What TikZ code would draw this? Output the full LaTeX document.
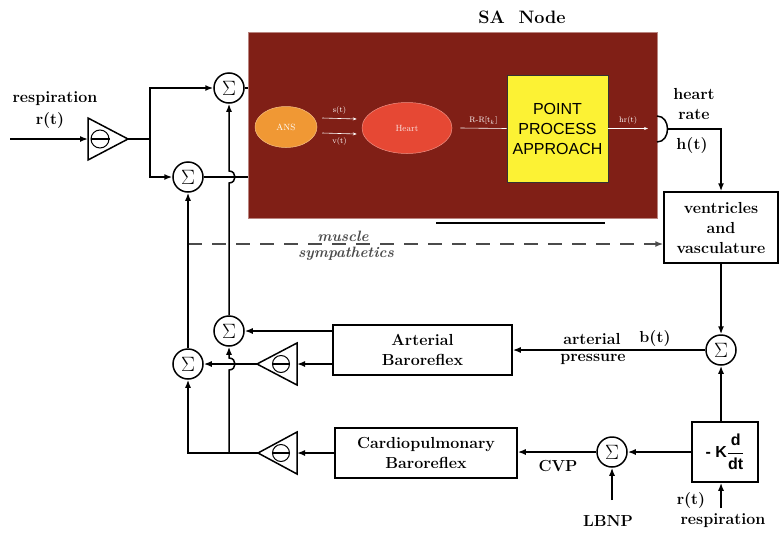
\documentclass[tikz,border=0pt]{standalone}
\usepackage{amsmath}
\usepackage{fontspec}
\newfontfamily\arialfont{Liberation Sans}
\usetikzlibrary{arrows.meta, shapes.geometric}
\definecolor{sared}{RGB}{128,31,22}
\definecolor{anscol}{RGB}{240,152,52}
\definecolor{heartcol}{RGB}{230,72,52}
\definecolor{ppcol}{RGB}{252,242,52}
\definecolor{dashcol}{RGB}{75,75,75}

\begin{document}
\begin{tikzpicture}[x=1pt, y=-1pt, line width=1.5pt,
  font=\fontsize{16}{20}\selectfont\bfseries,
  arr/.style={-{Latex[length=8pt,width=6pt]}},
  sumnode/.style={draw, circle, minimum size=30pt, inner sep=0pt, font=\fontsize{20}{20}\selectfont},
  minus/.style={draw, circle, inner sep=0pt, line width=1pt},
  blk/.style={draw, align=center, inner sep=0pt},
  wire/.style={white, line width=0.6pt, -{Stealth[length=4pt,width=3pt]}},
  small/.style={white, font=\fontsize{8}{8}\selectfont\mdseries}]
  \useasboundingbox (0,0) rectangle (779,533);

  % SA node
  \node[fill=sared, draw=sared!55!white, line width=0.6pt, minimum width=409pt, minimum height=186pt, inner sep=0pt] (sa) at (452.5,125) {};
  \node[font=\fontsize{18}{20}\selectfont\bfseries] (satitle) at (522,17) {SA\ \ Node};
  \draw[line width=1.8pt] (436,223) -- (605,223);
  \node[ellipse, fill=anscol, draw=anscol!60!white, line width=0.5pt, minimum width=62pt, minimum height=41pt, inner sep=0pt, font=\fontsize{9}{9}\selectfont\mdseries, text=white] (ans) at (286,127) {ANS};
  \node[ellipse, fill=heartcol, draw=heartcol!60!white, line width=0.5pt, minimum width=90pt, minimum height=51pt, inner sep=0pt, font=\fontsize{9}{9}\selectfont\mdseries, text=white!85!heartcol] (heart) at (407,128) {Heart};
  \draw[wire] ([xshift=5pt,yshift=9pt]ans.east) -- ([xshift=-5pt,yshift=9pt]heart.west) node[midway, above, small] {s(t)};
  \draw[wire] ([xshift=5pt,yshift=-6pt]ans.east) -- ([xshift=-5pt,yshift=-6pt]heart.west) node[midway, below, small] {v(t)};
  \node[fill=ppcol, draw=black!80, line width=0.8pt, minimum width=101pt, minimum height=107pt, inner sep=0pt, align=center, font=\arialfont\fontsize{16}{20}\selectfont] (pp) at (557.5,128.5) {POINT\\PROCESS\\APPROACH};
  \draw[white, line width=0.6pt] ([xshift=8pt]heart.east) -- (pp.west) node[midway, above, small] {R-R[t$_k$]};
  \coordinate (hrend) at (648,128.5);
  \draw[wire] (pp.east) -- (hrend) node[midway, above, small] {hr(t)};

  % heart rate out
  \coordinate (hrout) at (667,129);
  \draw (657,116) .. controls (671,116) and (671,142) .. (657,142);
  \node[blk, minimum width=114pt, minimum height=71pt] (vent) at (721,227.5) {ventricles\\and\\vasculature};
  \draw[arr] (hrout) -| (vent.north);
  \node (lheart) at (694,94) {heart};
  \node (lrate) at (694,114) {rate};
  \node (lht) at (692,146) {h(t)};

  % respiration input
  \node (lresp) at (55,99) {respiration};
  \node (lrt) at (50,121) {r(t)};
  \coordinate (rin) at (10,139);
  \coordinate (g1in) at (88,139);
  \coordinate (g1out) at (128,139);
  \draw (88,118) -- (g1out) -- (88,160) -- cycle;
  \node[minus, minimum size=18pt] (m1) at (100,139) {};
  \draw (m1.west) -- (m1.east);
  \draw[arr] (rin) -- (g1in);
  \node[sumnode] (s1) at (229,88) {$\Sigma$};
  \node[sumnode] (s2) at (188,177) {$\Sigma$};
  \draw (g1out) -- ++(22,0) coordinate (br1);
  \draw[arr] (br1) |- (s1.west);
  \draw[arr] (br1) |- (s2.west);
  \draw (s1.east) -- (s1 -| sa.west);
  \draw (s2.east) -- (s2 -| sa.west);

  % muscle sympathetics
  \coordinate (ms) at (188,244);
  \draw[arr, dashcol, line width=1.5pt, dash pattern=on 14pt off 10pt] (ms) -- (vent.west |- ms);
  \node[font=\fontsize{15}{18}\selectfont\bfseries\itshape, text=dashcol] (lmus) at (343,236) {muscle};
  \node[font=\fontsize{15}{18}\selectfont\bfseries\itshape, text=dashcol] (lsym) at (346,254) {sympathetics};

  % baroreflex loops
  \node[sumnode] (s3) at (229,331) {$\Sigma$};
  \node[sumnode] (s4) at (188,364) {$\Sigma$};
  \node[sumnode] (s5) at (612,452) {$\Sigma$};
  \node[sumnode] (s6) at (721,350) {$\Sigma$};
  \node[blk, minimum width=179pt, minimum height=50pt] (abr) at (422.5,350) {Arterial\\Baroreflex};
  \node[blk, minimum width=182pt, minimum height=50pt] (cbr) at (426,453) {Cardiopulmonary\\Baroreflex};
  \node[blk, minimum width=66pt, minimum height=60pt, font=\arialfont\fontsize{16}{20}\selectfont\bfseries] (kbox) at (725,452) {- K$\dfrac{\text{d}}{\text{dt}}$};

  \coordinate (g2in) at (297,364);
  \coordinate (g2out) at (257,364);
  \draw (297,343) -- (g2out) -- (297,385) -- cycle;
  \node[minus, minimum size=17pt] (m2) at (281,364) {};
  \draw (m2.west) -- (m2.east);
  \coordinate (g3in) at (297,453);
  \coordinate (g3out) at (258,453);
  \draw (297,432) -- (g3out) -- (297,474) -- cycle;
  \node[minus, minimum size=17pt] (m3) at (281,453) {};
  \draw (m3.west) -- (m3.east);

  \draw[arr] (vent.south) -- (s6.north);
  \draw[arr] (s6 |- kbox.north) -- (s6.south);
  \draw[arr] (s6.west) -- (abr.east);
  \draw[arr] (abr.west |- s3) -- (s3.east);
  \draw[arr] (abr.west |- g2in) -- (g2in);
  \draw[arr] (g2out) -- (s4.east);
  \draw[arr] (kbox.west |- s5) -- (s5.east);
  \draw[arr] (s5.west) -- (cbr.east |- s5);
  \draw[arr] (cbr.west |- g3in) -- (g3in);
  \draw[arr] (g3out) -| (s4.south);
  \coordinate (j3) at (229,453);
  \draw[arr] (j3) -- (229,370) .. controls (237,370) and (237,358) .. (229,358) -- (s3.south);
  \draw[arr] (s3.north) -- (229,183) .. controls (237,183) and (237,171) .. (229,171) -- (s1.south);
  \draw[arr] (s4.north) -- (s2.south);

  % external inputs and labels
  \coordinate (lbin) at (612,500);
  \draw[arr] (lbin) -- (s5.south);
  \node (llbnp) at (608,521) {LBNP};
  \coordinate (rbin) at (721,508);
  \draw[arr] (rbin) -- (s6 |- kbox.south);
  \node (lrt2) at (691,501) {r(t)};
  \node (lresp2) at (723,521) {respiration};
  \node (lart) at (592,339) {arterial};
  \node (lpre) at (593,359) {pressure};
  \node (lbt) at (655,339) {b(t)};
  \node (lcvp) at (558,466) {CVP};
\end{tikzpicture}
\end{document}
